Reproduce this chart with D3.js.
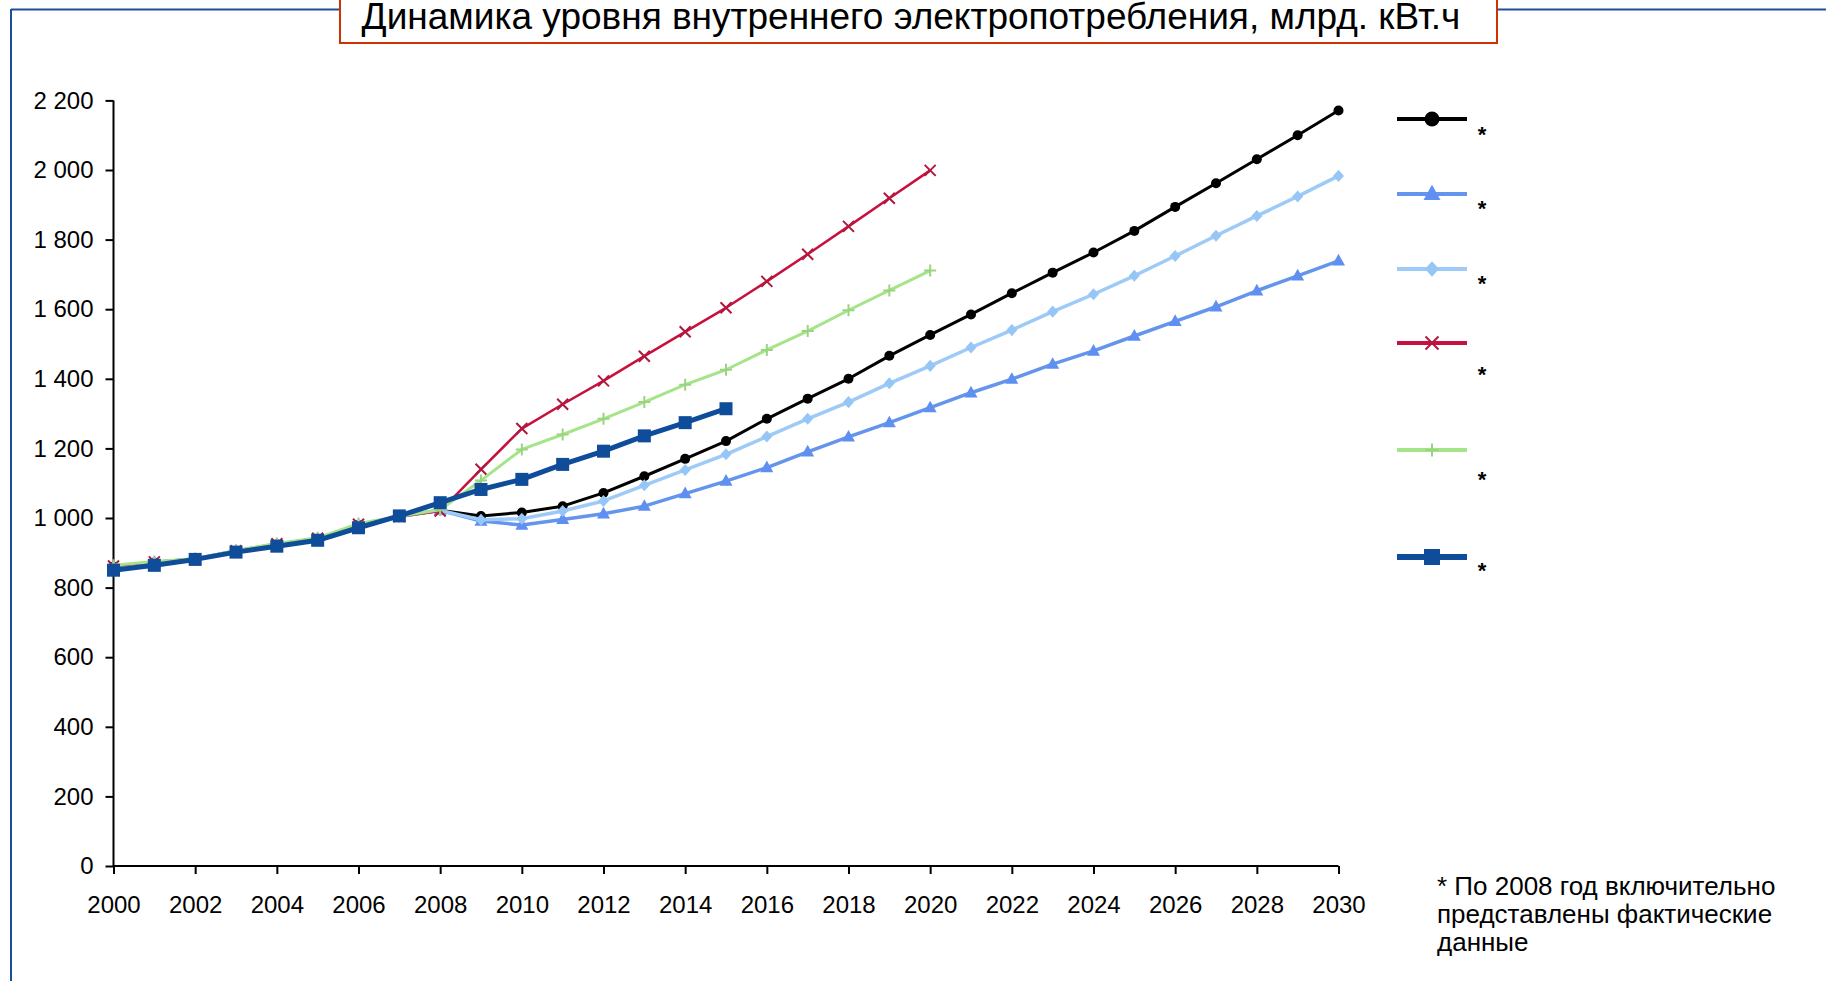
<!DOCTYPE html>
<html><head><meta charset="utf-8">
<script src="https://cdn.jsdelivr.net/npm/d3@7/dist/d3.min.js"></script>
<style>
body{margin:0;background:#fff;}
svg{display:block;font-family:"Liberation Sans",Arial,sans-serif;}
</style>
</head><body>
<svg id="c" width="1826" height="981"></svg>
<script>
// ---------- data ----------
const years = [2000,2001,2002,2003,2004,2005,2006,2007,2008,2009,2010,2011,2012,2013,2014,2015,2016,2017,2018,2019,2020,2021,2022,2023,2024,2025,2026,2027,2028,2029,2030];
const xTickYears = [2000,2002,2004,2006,2008,2010,2012,2014,2016,2018,2020,2022,2024,2026,2028,2030];
const yTicks = [0,200,400,600,800,1000,1200,1400,1600,1800,2000,2200];
const yTickLabels = ["0","200","400","600","800","1 000","1 200","1 400","1 600","1 800","2 000","2 200"];

const seriesBlack    = [860,872,882,905,924,940,980,1004,1022,1006,1016,1034,1072,1120,1170,1221,1285,1343,1400,1466,1526,1585,1646,1705,1763,1825,1894,1962,2031,2100,2171];
const seriesTriangle = [860,872,882,905,924,940,980,1004,1022,991,980,996,1012,1034,1070,1106,1145,1190,1233,1274,1317,1360,1399,1442,1480,1523,1565,1607,1653,1696,1739];
const seriesDiamond  = [860,872,882,905,924,940,980,1004,1022,995,998,1020,1049,1094,1138,1183,1234,1285,1333,1387,1437,1490,1540,1593,1643,1696,1753,1811,1868,1924,1983];
const seriesRed      = [862,874,882,906,926,942,982,1004,1020,1140,1257,1327,1394,1465,1535,1604,1680,1758,1838,1919,1999,null,null,null,null,null,null,null,null,null,null];
const seriesGreen    = [864,875,883,907,927,943,984,1005,1024,1108,1197,1240,1285,1333,1383,1426,1483,1537,1597,1654,1711,null,null,null,null,null,null,null,null,null,null];
const seriesDarkBlue = [850,864,881,902,919,936,972,1006,1044,1082,1111,1154,1192,1236,1274,1314,null,null,null,null,null,null,null,null,null,null,null,null,null,null,null];

const legendLabels = ["*","*","*","*","*","*"];
const titleText = "Динамика уровня внутреннего электропотребления, млрд. кВт.ч";
const noteLines = ["* По 2008 год включительно","представлены фактические","данные"];

// ---------- styles ----------
const seriesDefs = [
  {values: seriesBlack,    color:"#000000", mcolor:"#000000", width:3,   marker:"circle",   ms:10, lms:15, lw:4},
  {values: seriesTriangle, color:"#6495ed", mcolor:"#5f8ff0", width:3.5, marker:"triangle", ms:13, lms:17, lw:4},
  {values: seriesDiamond,  color:"#9dcaf7", mcolor:"#96c6f6", width:3.5, marker:"diamond",  ms:11, lms:14, lw:4},
  {values: seriesRed,      color:"#c8103e", mcolor:"#b0183e", width:2.5, marker:"x",        ms:11, lms:13, lw:4},
  {values: seriesGreen,    color:"#a6e489", mcolor:"#9ad47f", width:3,   marker:"plus",     ms:12, lms:13, lw:4},
  {values: seriesDarkBlue, color:"#0f4c9a", mcolor:"#0f4c9a", width:5,   marker:"square",   ms:13, lms:16, lw:6}
];
const legendLineY = [119, 194, 269, 343, 450, 557];
const legendStarY = [142, 216, 291, 382, 487, 578];

const svg = d3.select("#c");

// frame
svg.append("line").attr("x1",11).attr("x2",1826).attr("y1",9.5).attr("y2",9.5)
  .attr("stroke","#1b4f9c").attr("stroke-width",2);
svg.append("line").attr("x1",11).attr("x2",11).attr("y1",9).attr("y2",981)
  .attr("stroke","#1b4f9c").attr("stroke-width",2);

// title box
svg.append("rect").attr("x",340).attr("y",-6).attr("width",1157).attr("height",49)
  .attr("fill","#fff").attr("stroke","#cc3300").attr("stroke-width",2);
svg.append("text").attr("x",911).attr("y",29).attr("text-anchor","middle")
  .attr("font-size",37).attr("fill","#000").text(titleText);

// scales
const x = d3.scaleLinear().domain([2000,2030]).range([113.5,1338.5]);
const y = d3.scaleLinear().domain([0,2200]).range([866,100.4]);

// axes
const yAxis = d3.axisLeft(y).tickValues(yTicks).tickSize(8).tickPadding(12)
  .tickFormat((d,i)=>yTickLabels[i]);
const gy = svg.append("g").attr("transform","translate(113.5,0)").call(yAxis);
const xAxis = d3.axisBottom(x).tickValues(xTickYears).tickSize(8).tickPadding(22)
  .tickFormat(d=>String(d));
const gx = svg.append("g").attr("transform","translate(0,866)").call(xAxis);
[gx,gy].forEach(g=>{
  g.select(".domain").attr("stroke","#000").attr("stroke-width",2);
  g.selectAll(".tick line").attr("stroke","#000").attr("stroke-width",2);
  g.selectAll(".tick text").attr("font-size",24).attr("fill","#000")
    .attr("font-family","'Liberation Sans',Arial,sans-serif");
});
gx.select(".domain").attr("d","M113.5,0H1338.5");
gy.select(".domain").attr("d","M0,100.4V866");

// marker drawing
function drawMarker(g, type, cx, cy, s, color){
  const h = s/2;
  if(type==="circle"){
    g.append("circle").attr("cx",cx).attr("cy",cy).attr("r",h).attr("fill",color);
  } else if(type==="triangle"){
    const ht = s*0.9;
    g.append("path").attr("d",`M${cx},${cy-ht*0.6}L${cx+h},${cy+ht*0.4}L${cx-h},${cy+ht*0.4}Z`).attr("fill",color);
  } else if(type==="diamond"){
    g.append("path").attr("d",`M${cx},${cy-h*1.1}L${cx+h},${cy}L${cx},${cy+h*1.1}L${cx-h},${cy}Z`).attr("fill",color);
  } else if(type==="square"){
    g.append("rect").attr("x",cx-h).attr("y",cy-h).attr("width",s).attr("height",s).attr("fill",color);
  } else if(type==="x"){
    g.append("path").attr("d",`M${cx-h},${cy-h}L${cx+h},${cy+h}M${cx-h},${cy+h}L${cx+h},${cy-h}`)
      .attr("stroke",color).attr("stroke-width",2).attr("fill","none");
  } else if(type==="plus"){
    g.append("path").attr("d",`M${cx-h},${cy}L${cx+h},${cy}M${cx},${cy-h}L${cx},${cy+h}`)
      .attr("stroke",color).attr("stroke-width",2).attr("fill","none");
  }
}

// series
const plot = svg.append("g");
seriesDefs.forEach(sd=>{
  const pts = years.map((yr,i)=>({yr, v: sd.values[i]})).filter(p=>p.v!==null);
  const line = d3.line().x(p=>x(p.yr)).y(p=>y(p.v));
  const g = plot.append("g");
  g.append("path").datum(pts).attr("d",line).attr("fill","none")
    .attr("stroke",sd.color).attr("stroke-width",sd.width).attr("stroke-linejoin","round");
  pts.forEach(p=>drawMarker(g, sd.marker, x(p.yr), y(p.v), sd.ms, sd.mcolor));
});

// legend
const lg = svg.append("g");
seriesDefs.forEach((sd,i)=>{
  const ly = legendLineY[i];
  lg.append("line").attr("x1",1397).attr("x2",1467).attr("y1",ly).attr("y2",ly)
    .attr("stroke",sd.color).attr("stroke-width",sd.lw);
  drawMarker(lg, sd.marker, 1432, ly, sd.lms, sd.mcolor);
  lg.append("text").attr("x",1482).attr("y",legendStarY[i]).attr("text-anchor","middle")
    .attr("font-size",22).attr("font-weight","bold").attr("fill","#000").text(legendLabels[i]);
});

// footnote
const nt = svg.append("text").attr("x",1437).attr("y",895).attr("font-size",26).attr("fill","#000");
noteLines.forEach((t,i)=>{
  nt.append("tspan").attr("x",1437).attr("dy", i===0?0:27.8).text(t);
});
</script>
</body></html>
